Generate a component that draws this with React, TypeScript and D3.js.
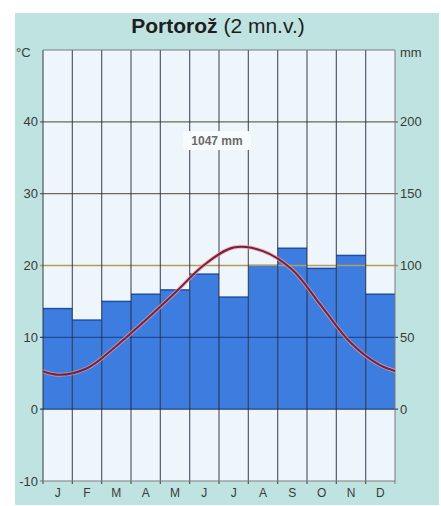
import * as d3 from "d3";

const months = ["J", "F", "M", "A", "M", "J", "J", "A", "S", "O", "N", "D"];
const precipitation = [70, 62, 75, 80, 83, 94, 78, 100, 112, 98, 107, 80];
const temperature = [4.8, 5.7, 8.8, 12.4, 16.2, 20.1, 22.5, 22.0, 19.4, 14.3, 9.2, 6.1];
const tempTicks = [-10, 0, 10, 20, 30, 40];
const precipTicks = [0, 50, 100, 150, 200];
const title = "Portorož";
const subtitle = " (2 mn.v.)";
const totalLabel = "1047 mm";

const W = 441;
const H = 506;
const plot = { left: 43, right: 395, top: 50, bottom: 481 };
const font = "Liberation Sans, Arial, sans-serif";

export default function App() {
  const idx = months.map((_, i) => i);
  const x = d3.scaleBand<number>().domain(idx).range([plot.left, plot.right]);
  const yT = d3.scaleLinear().domain([-10, 50]).range([plot.bottom, plot.top]);
  const yP = d3.scaleLinear().domain([-50, 250]).range([plot.bottom, plot.top]);
  const bw = x.bandwidth();
  const cx = (i: number) => (x(i) ?? 0) + bw / 2;

  // wrap the year around so the curve runs to both edges
  const pts: [number, number][] = [
    [cx(0) - bw, yT(temperature[11])],
    ...temperature.map((t, i) => [cx(i), yT(t)] as [number, number]),
    [cx(11) + bw, yT(temperature[0])],
  ];
  const line = d3.line().curve(d3.curveCatmullRom.alpha(0.5));
  const d = line(pts) ?? "";

  const gridColor = (t: number) =>
    t === 20 ? "#b59c5c" : t === 10 ? "#1f4a94" : t === 0 ? "#27457d" : "#6c685c";
  const ink = "#3a3a3a";

  return (
    <svg width={W} height={H} style={{ position: "absolute", left: 0, top: 0 }} fontFamily={font}>
      <defs>
        <clipPath id="plotClip">
          <rect x={plot.left} y={plot.top} width={plot.right - plot.left} height={plot.bottom - plot.top} />
        </clipPath>
      </defs>
      <rect x={0} y={0} width={W} height={H} fill="#ffffff" />
      <rect x={15} y={13} width={424} height={492} fill="#bfe3e0" />
      <rect
        x={plot.left}
        y={plot.top}
        width={plot.right - plot.left}
        height={plot.bottom - plot.top}
        fill="#eef6fb"
      />

      <text x={218} y={33} textAnchor="middle" fontSize={21} fill="#1e1e1e">
        <tspan fontWeight="bold">{title}</tspan>
        <tspan>{subtitle}</tspan>
      </text>

      {precipitation.map((p, i) => (
        <g key={i}>
          <rect x={x(i)} y={yP(p)} width={bw} height={yP(0) - yP(p)} fill="#3d7de0" />
          <line x1={x(i)} x2={(x(i) ?? 0) + bw} y1={yP(p)} y2={yP(p)} stroke="#1d4fa8" strokeWidth={1.5} />
        </g>
      ))}

      {tempTicks.filter((t) => t > -10).map((t) => (
        <line
          key={t}
          x1={plot.left - 3}
          x2={plot.right + 3}
          y1={yT(t)}
          y2={yT(t)}
          stroke={gridColor(t)}
          strokeWidth={1.3}
        />
      ))}

      {idx.map((i) => (
        <line
          key={i}
          x1={x(i)}
          x2={x(i)}
          y1={plot.top}
          y2={plot.bottom + 3}
          stroke="rgba(35,38,55,0.75)"
          strokeWidth={1.2}
        />
      ))}
      <line x1={plot.right} x2={plot.right} y1={plot.top} y2={plot.bottom + 3} stroke="#7a7a7a" strokeWidth={1} />
      <line x1={plot.left} x2={plot.right} y1={plot.top} y2={plot.top} stroke="#7a7a7a" strokeWidth={1} />
      <line x1={plot.left - 3} x2={plot.right} y1={plot.bottom} y2={plot.bottom} stroke="#7a7a7a" strokeWidth={1} />

      <g clipPath="url(#plotClip)">
        <path d={d} fill="none" stroke="#e8a0a0" strokeWidth={4} strokeOpacity={0.7} />
        <path d={d} fill="none" stroke="#7a1f3c" strokeWidth={2} />
      </g>

      <rect x={183} y={131} width={68} height={19} rx={3} fill="#f8fbfd" />
      <text x={217} y={145} textAnchor="middle" fontSize={12} fontWeight="bold" fill="#6a6a6a">
        {totalLabel}
      </text>

      {tempTicks.map((t) => (
        <text key={t} x={38} y={yT(t) + 4.5} textAnchor="end" fontSize={13} fill={ink}>
          {t}
        </text>
      ))}
      <text x={16} y={57} fontSize={13} fill={ink}>
        °C
      </text>

      {precipTicks.map((p) => (
        <text key={p} x={400} y={yP(p) + 4.5} fontSize={13} fill={ink}>
          {p}
        </text>
      ))}
      <text x={400} y={57} fontSize={13} fill={ink}>
        mm
      </text>

      {months.map((m, i) => (
        <text key={i} x={cx(i)} y={497} textAnchor="middle" fontSize={12} fill={ink}>
          {m}
        </text>
      ))}
    </svg>
  );
}
